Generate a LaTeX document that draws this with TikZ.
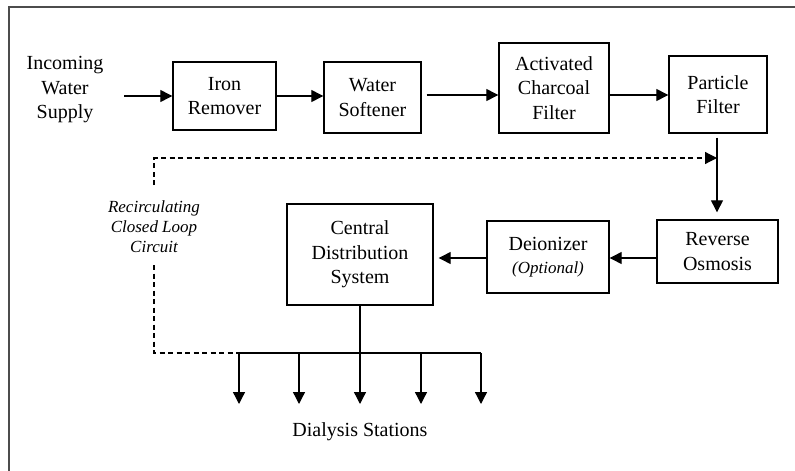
\documentclass[tikz,border=0pt]{standalone}
\usepackage{fontspec}
\setmainfont{Liberation Serif}
\usetikzlibrary{arrows.meta}
\begin{document}
\begin{tikzpicture}[x=1pt,y=-1pt,
  every node/.style={font=\fontsize{20}{24.5}\selectfont, align=center, inner sep=0pt},
  unit/.style={draw, line width=1.4pt, minimum width=#1},
  tip/.style={-{Triangle[length=12pt,width=12pt]}},
  flow/.style={line width=1.3pt, tip},
  loop/.style={line width=1.2pt, dash pattern=on 5pt off 3.5pt},
  note/.style={font=\fontsize{17}{20}\selectfont\itshape}]
\useasboundingbox (0,0) rectangle (795,471);
% page frame (top and left edges only)
\draw[line width=2pt, black!70] (8.5,471) -- (8.5,6.5) -- (795,6.5);

% treatment units
\node[unit=103pt, minimum height=68pt] (iron) at (224.5,96) {Iron\\Remover};
\node[unit=97pt, minimum height=71pt] (soft) at (372.5,97.5) {Water\\Softener};
\node[unit=110pt, minimum height=90pt] (carbon) at (554,88) {Activated\\Charcoal\\Filter};
\node[unit=98pt, minimum height=77pt] (part) at (718,94.5) {Particle\\Filter};
\node[unit=121pt, minimum height=63pt] (ro) at (717.5,251.5) {Reverse\\Osmosis};
\node[unit=122pt, minimum height=72pt] (deion) at (548,257) {Deionizer\\[-2pt]{\fontsize{17}{20}\selectfont\itshape(Optional)}};
\node[unit=146pt, minimum height=101pt] (central) at (360,254.5) {Central\\Distribution\\System};

% labels
\node (supply) at (65,90) {Incoming\\Water\\Supply};
\node[note] (looplbl) at (154,227) {Recirculating\\Closed Loop\\Circuit};
\node (stations) at (360,432) {Dialysis Stations};

% named points
\coordinate (inlet) at (124,96);
\coordinate (tee) at (717,158);
\coordinate (ltop) at (154,158);
\coordinate (lmid) at (154,185);
\coordinate (lres) at (154,265);
\coordinate (lcorner) at (154,353);
\coordinate (b1) at (239,353);
\coordinate (b2) at (299,353);
\coordinate (b3) at (360,353);
\coordinate (b4) at (421,353);
\coordinate (b5) at (481,353);

% main supply line
\draw[flow] (inlet) -- (inlet -| iron.west);
\draw[flow] (iron.east |- inlet) -- (soft.west |- inlet);
\draw[flow, shorten <=5pt] (soft.east |- 0,95) -- (carbon.west |- 0,95);
\draw[flow] (carbon.east |- 0,95) -- (part.west |- 0,95);
\draw[flow, shorten <=4pt, shorten >=7pt] (part.south -| tee) -- (ro.north -| tee);
\draw[flow] (ro.west |- 0,258) -- (deion.east |- 0,258);
\draw[flow, shorten >=5pt] (deion.west |- 0,258) -- (central.east |- 0,258);

% recirculating loop
\draw[loop, tip] (lmid) -- (ltop) -- (tee);
\draw[loop] (lres) -- (lcorner) -- (b1);

% distribution header and stations
\draw[line width=1.3pt] (b1) -- (b5);
\draw[flow] (central.south) -- (b3 |- 0,404);
\foreach \p in {b1,b2,b4,b5}
  \draw[flow] (\p) -- (\p |- 0,404);
\end{tikzpicture}
\end{document}
